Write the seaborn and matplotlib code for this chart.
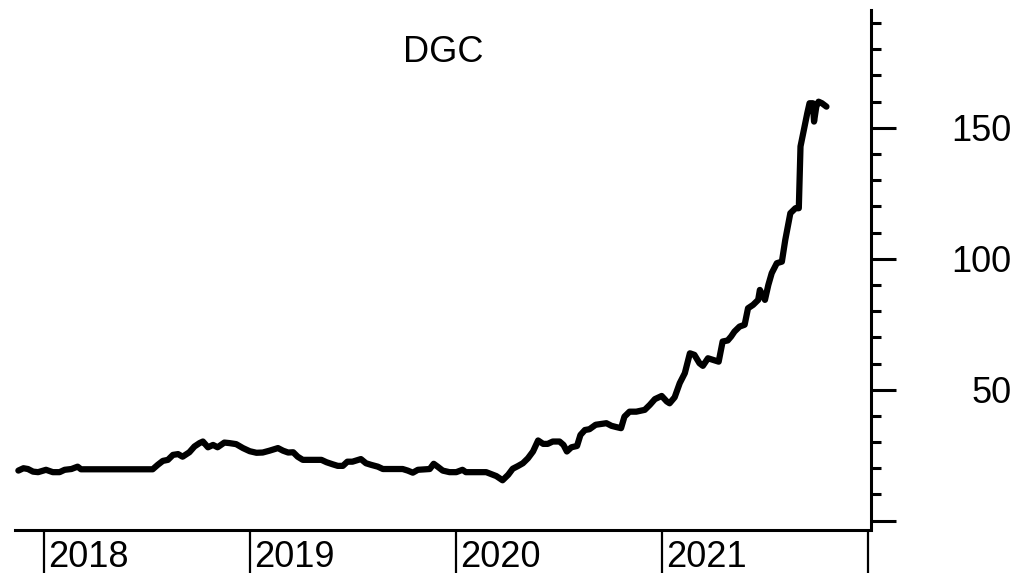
import numpy as np
import pandas as pd
import matplotlib
matplotlib.use("Agg")
import matplotlib.pyplot as plt
import matplotlib.transforms as mtransforms
import seaborn as sns

# weekly-ish closing prices
dates = [
    "2017-11-17", "2017-11-26", "2017-12-04", "2017-12-13", "2017-12-22",
    "2018-01-05", "2018-01-17", "2018-01-29", "2018-02-07", "2018-02-19",
    "2018-03-02", "2018-03-08", "2018-07-13", "2018-07-22", "2018-07-31",
    "2018-08-09", "2018-08-18", "2018-08-27", "2018-09-04", "2018-09-16",
    "2018-09-25", "2018-10-04", "2018-10-10", "2018-10-19", "2018-10-28",
    "2018-11-05", "2018-11-17", "2018-11-26", "2018-12-08", "2018-12-20",
    "2019-01-01", "2019-01-13", "2019-01-24", "2019-02-05", "2019-02-20",
    "2019-03-01", "2019-03-10", "2019-03-19", "2019-03-27", "2019-04-05",
    "2019-05-08", "2019-05-17", "2019-05-28", "2019-06-06", "2019-06-15",
    "2019-06-23", "2019-07-02", "2019-07-17", "2019-07-26", "2019-08-04",
    "2019-08-16", "2019-08-25", "2019-09-29", "2019-10-08", "2019-10-17",
    "2019-10-26", "2019-11-16", "2019-11-23", "2019-11-30", "2019-12-09",
    "2019-12-21", "2020-01-02", "2020-01-13", "2020-01-19", "2020-02-24",
    "2020-03-01", "2020-03-13", "2020-03-24", "2020-04-03", "2020-04-11",
    "2020-04-20", "2020-04-29", "2020-05-08", "2020-05-17", "2020-05-26",
    "2020-06-04", "2020-06-12", "2020-06-21", "2020-07-03", "2020-07-10",
    "2020-07-16", "2020-07-24", "2020-08-03", "2020-08-09", "2020-08-17",
    "2020-08-25", "2020-09-05", "2020-09-15", "2020-09-24", "2020-10-03",
    "2020-10-12", "2020-10-20", "2020-10-26", "2020-11-04", "2020-11-16",
    "2020-12-01", "2020-12-10", "2020-12-19", "2020-12-31", "2021-01-09",
    "2021-01-14", "2021-01-23", "2021-02-01", "2021-02-10", "2021-02-19",
    "2021-02-27", "2021-03-08", "2021-03-14", "2021-03-23", "2021-04-01",
    "2021-04-11", "2021-04-18", "2021-04-27", "2021-05-03", "2021-05-09",
    "2021-05-18", "2021-05-27", "2021-06-02", "2021-06-11", "2021-06-20",
    "2021-06-23", "2021-07-02", "2021-07-08", "2021-07-14", "2021-07-23",
    "2021-08-01", "2021-08-07", "2021-08-16", "2021-08-25", "2021-08-31",
    "2021-09-03", "2021-09-09", "2021-09-15", "2021-09-19", "2021-09-25",
    "2021-09-27", "2021-10-01", "2021-10-05", "2021-10-11", "2021-10-19",
]
prices = [
    19.1, 20.0, 19.7, 18.7, 18.5,
    19.4, 18.5, 18.5, 19.4, 19.7,
    20.6, 19.6, 19.6, 21.3, 22.8,
    23.2, 25.1, 25.4, 24.4, 26.1,
    28.3, 29.6, 30.2, 28.0, 28.9,
    28.0, 29.8, 29.6, 29.2, 27.7,
    26.5, 25.9, 26.0, 26.7, 27.7,
    26.7, 26.0, 26.1, 24.4, 23.2,
    23.2, 22.3, 21.5, 20.9, 20.9,
    22.5, 22.5, 23.5, 21.9, 21.3,
    20.6, 19.7, 19.7, 19.1, 18.3,
    19.4, 19.7, 21.7, 20.6, 19.1,
    18.5, 18.5, 19.4, 18.5, 18.5,
    18.0, 17.0, 15.4, 17.5, 19.8,
    20.8, 21.9, 23.8, 26.4, 30.6,
    29.3, 29.3, 30.2, 30.2, 28.9,
    26.4, 28.0, 28.5, 32.7, 34.6,
    34.9, 36.6, 36.9, 37.2, 36.2,
    35.7, 35.3, 39.7, 41.6, 41.6,
    42.3, 44.2, 46.4, 47.6, 45.5,
    44.8, 47.1, 52.5, 56.3, 63.9,
    63.3, 60.1, 59.1, 62.0, 61.4,
    60.7, 68.4, 68.8, 70.3, 72.2,
    74.1, 74.8, 81.1, 82.4, 84.3,
    88.1, 84.3, 90.0, 94.5, 98.3,
    98.9, 107.2, 117.4, 119.3, 119.3,
    142.9, 149.2, 155.6, 159.4, 159.4,
    152.4, 158.1, 160.0, 159.4, 158.1,
]

year_ticks = ["2018-01-01", "2019-01-01", "2020-01-01", "2021-01-01", "2022-01-01"]
year_labels = ["2018", "2019", "2020", "2021", ""]
y_major = [0, 50, 100, 150]
y_labels = ["", "50", "100", "150"]

df = pd.DataFrame({"date": pd.to_datetime(dates), "price": prices})

sns.set_style("ticks", {"axes.edgecolor": "black", "xtick.color": "black",
                        "ytick.color": "black", "text.color": "black"})
plt.rcParams["font.family"] = ["Liberation Sans", "DejaVu Sans"]

fig = plt.figure(figsize=(10.19, 5.73), dpi=100)
ax = fig.add_axes([0.0147, 0.075, 0.8401, 0.9075])

sns.lineplot(data=df, x="date", y="price", color="black", linewidth=4.5, ax=ax)

ax.set_xlim(pd.Timestamp("2017-11-11"), pd.Timestamp("2022-01-06"))
ax.set_ylim(-3.6, 195)

ax.set_xlabel("")
ax.set_ylabel("")
ax.set_title("DGC", fontsize=26, color="black", y=0.9, pad=0)

ax.spines["left"].set_visible(False)
ax.spines["top"].set_visible(False)
ax.spines["right"].set_linewidth(2.2)
ax.spines["bottom"].set_linewidth(2.2)
ax.spines["right"].set_bounds(-2.5, 195)

ax.yaxis.tick_right()
ax.set_yticks(y_major)
ax.set_yticklabels(y_labels)
ax.set_yticks(np.arange(0, 191, 10), minor=True)
ax.tick_params(axis="y", which="major", length=18, width=2.2, labelsize=26,
               pad=83, colors="black")
ax.tick_params(axis="y", which="minor", length=7, width=2.2, colors="black")
for lab in ax.get_yticklabels():
    lab.set_horizontalalignment("right")

ax.set_xticks(pd.to_datetime(year_ticks))
ax.set_xticklabels(year_labels)
ax.tick_params(axis="x", which="major", length=34, width=1.6, labelsize=26,
               pad=-27, colors="black")
ax.tick_params(axis="x", which="minor", length=0)
shift = mtransforms.ScaledTranslation(4 / 100, 0, fig.dpi_scale_trans)
for lab in ax.get_xticklabels():
    lab.set_horizontalalignment("left")
    lab.set_transform(lab.get_transform() + shift)

fig.savefig("out.png", dpi=100)
